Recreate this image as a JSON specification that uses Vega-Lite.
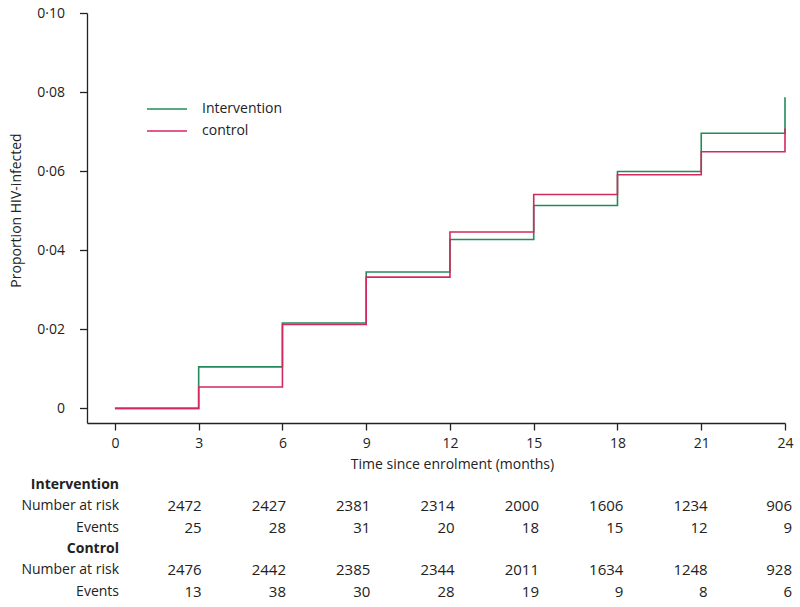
{
  "$schema": "https://vega.github.io/schema/vega-lite/v6.json",
  "padding": {"top": 6, "left": 9, "right": 5, "bottom": 5},
  "background": "white",
  "bounds": "flush",
  "spacing": 51,
  "config": {
    "view": {"stroke": null},
    "font": "Open Sans",
    "axis": {
      "labelFont": "Open Sans",
      "titleFont": "Open Sans",
      "labelFontSize": 14,
      "titleFontSize": 14,
      "titleFontWeight": "normal",
      "labelColor": "#222222",
      "titleColor": "#222222",
      "domainColor": "#222222",
      "tickColor": "#222222",
      "domainWidth": 1.3,
      "tickWidth": 1.3,
      "grid": false
    },
    "text": {"font": "Open Sans", "fontSize": 15, "color": "#222222"}
  },
  "vconcat": [
    {
      "width": 698,
      "height": 410,
      "data": {
        "values": [
          {"group": "Intervention", "month": 0, "p": 0},
          {"group": "Intervention", "month": 3, "p": 0.0105},
          {"group": "Intervention", "month": 6, "p": 0.0216},
          {"group": "Intervention", "month": 9, "p": 0.0345},
          {"group": "Intervention", "month": 12, "p": 0.0427},
          {"group": "Intervention", "month": 15, "p": 0.0513},
          {"group": "Intervention", "month": 18, "p": 0.0599},
          {"group": "Intervention", "month": 21, "p": 0.0696},
          {"group": "Intervention", "month": 24, "p": 0.0787},
          {"group": "control", "month": 0, "p": 0},
          {"group": "control", "month": 3, "p": 0.0054},
          {"group": "control", "month": 6, "p": 0.0212},
          {"group": "control", "month": 9, "p": 0.0332},
          {"group": "control", "month": 12, "p": 0.0446},
          {"group": "control", "month": 15, "p": 0.0541},
          {"group": "control", "month": 18, "p": 0.0591},
          {"group": "control", "month": 21, "p": 0.0649},
          {"group": "control", "month": 24, "p": 0.0708}
        ]
      },
      "mark": {"type": "line", "interpolate": "step-after", "strokeWidth": 1.6},
      "encoding": {
        "x": {
          "field": "month",
          "type": "quantitative",
          "scale": {"domain": [-1, 24], "nice": false, "zero": false},
          "axis": {
            "values": [0, 3, 6, 9, 12, 15, 18, 21, 24],
            "title": "Time since enrolment (months)",
            "tickSize": 7,
            "labelPadding": 6,
            "titlePadding": 7,
            "titleX": 365,
            "labelFlush": false
          }
        },
        "y": {
          "field": "p",
          "type": "quantitative",
          "scale": {"domain": [-0.0037, 0.1], "nice": false, "zero": false},
          "axis": {
            "values": [0, 0.02, 0.04, 0.06, 0.08, 0.1],
            "labelExpr": "datum.value == 0 ? '0' : replace(format(datum.value, '.2f'), '.', '·')",
            "title": "Proportion HIV-infected",
            "tickSize": 7.5,
            "labelPadding": 15,
            "titlePadding": 13,
            "titleY": 197,
            "labelFlush": false
          }
        },
        "color": {
          "field": "group",
          "type": "nominal",
          "scale": {"domain": ["Intervention", "control"], "range": ["#238b5b", "#d22a5e"]},
          "legend": {
            "title": null,
            "orient": "none",
            "legendX": 69,
            "legendY": 85,
            "symbolType": "M-2,0H2",
            "symbolSize": 400,
            "symbolStrokeWidth": 1.6,
            "labelOffset": 24,
            "labelFont": "Open Sans",
            "labelFontSize": 14,
            "labelColor": "#222222",
            "rowPadding": 4
          }
        }
      }
    },
    {
      "width": 698,
      "height": 128.4,
      "data": {
        "values": [
          {"row": "r2", "month": 3, "value": "2472"},
          {"row": "r2", "month": 6, "value": "2427"},
          {"row": "r2", "month": 9, "value": "2381"},
          {"row": "r2", "month": 12, "value": "2314"},
          {"row": "r2", "month": 15, "value": "2000"},
          {"row": "r2", "month": 18, "value": "1606"},
          {"row": "r2", "month": 21, "value": "1234"},
          {"row": "r2", "month": 24, "value": "906"},
          {"row": "r3", "month": 3, "value": "25"},
          {"row": "r3", "month": 6, "value": "28"},
          {"row": "r3", "month": 9, "value": "31"},
          {"row": "r3", "month": 12, "value": "20"},
          {"row": "r3", "month": 15, "value": "18"},
          {"row": "r3", "month": 18, "value": "15"},
          {"row": "r3", "month": 21, "value": "12"},
          {"row": "r3", "month": 24, "value": "9"},
          {"row": "r5", "month": 3, "value": "2476"},
          {"row": "r5", "month": 6, "value": "2442"},
          {"row": "r5", "month": 9, "value": "2385"},
          {"row": "r5", "month": 12, "value": "2344"},
          {"row": "r5", "month": 15, "value": "2011"},
          {"row": "r5", "month": 18, "value": "1634"},
          {"row": "r5", "month": 21, "value": "1248"},
          {"row": "r5", "month": 24, "value": "928"},
          {"row": "r6", "month": 3, "value": "13"},
          {"row": "r6", "month": 6, "value": "38"},
          {"row": "r6", "month": 9, "value": "30"},
          {"row": "r6", "month": 12, "value": "28"},
          {"row": "r6", "month": 15, "value": "19"},
          {"row": "r6", "month": 18, "value": "9"},
          {"row": "r6", "month": 21, "value": "8"},
          {"row": "r6", "month": 24, "value": "6"}
        ]
      },
      "mark": {"type": "text", "align": "right", "baseline": "middle"},
      "encoding": {
        "x": {
          "field": "month",
          "type": "quantitative",
          "scale": {"domain": [-1.08, 23.75], "nice": false, "zero": false},
          "axis": null
        },
        "y": {
          "field": "row",
          "type": "nominal",
          "scale": {"type": "band", "domain": ["r1", "r2", "r3", "r4", "r5", "r6"], "paddingInner": 0, "paddingOuter": 0},
          "axis": {
            "title": null,
            "domain": false,
            "ticks": false,
            "labelPadding": 0,
            "offset": -31.5,
            "labelAlign": "right",
            "labelBaseline": "middle",
            "labelFontSize": 14,
            "labelExpr": "datum.value == 'r1' ? 'Intervention' : datum.value == 'r4' ? 'Control' : (datum.value == 'r2' || datum.value == 'r5') ? 'Number at risk' : 'Events'",
            "labelFontWeight": {"condition": {"test": "datum.value == 'r1' || datum.value == 'r4'", "value": "bold"}, "value": "normal"}
          }
        },
        "text": {"field": "value", "type": "nominal"}
      }
    }
  ]
}
